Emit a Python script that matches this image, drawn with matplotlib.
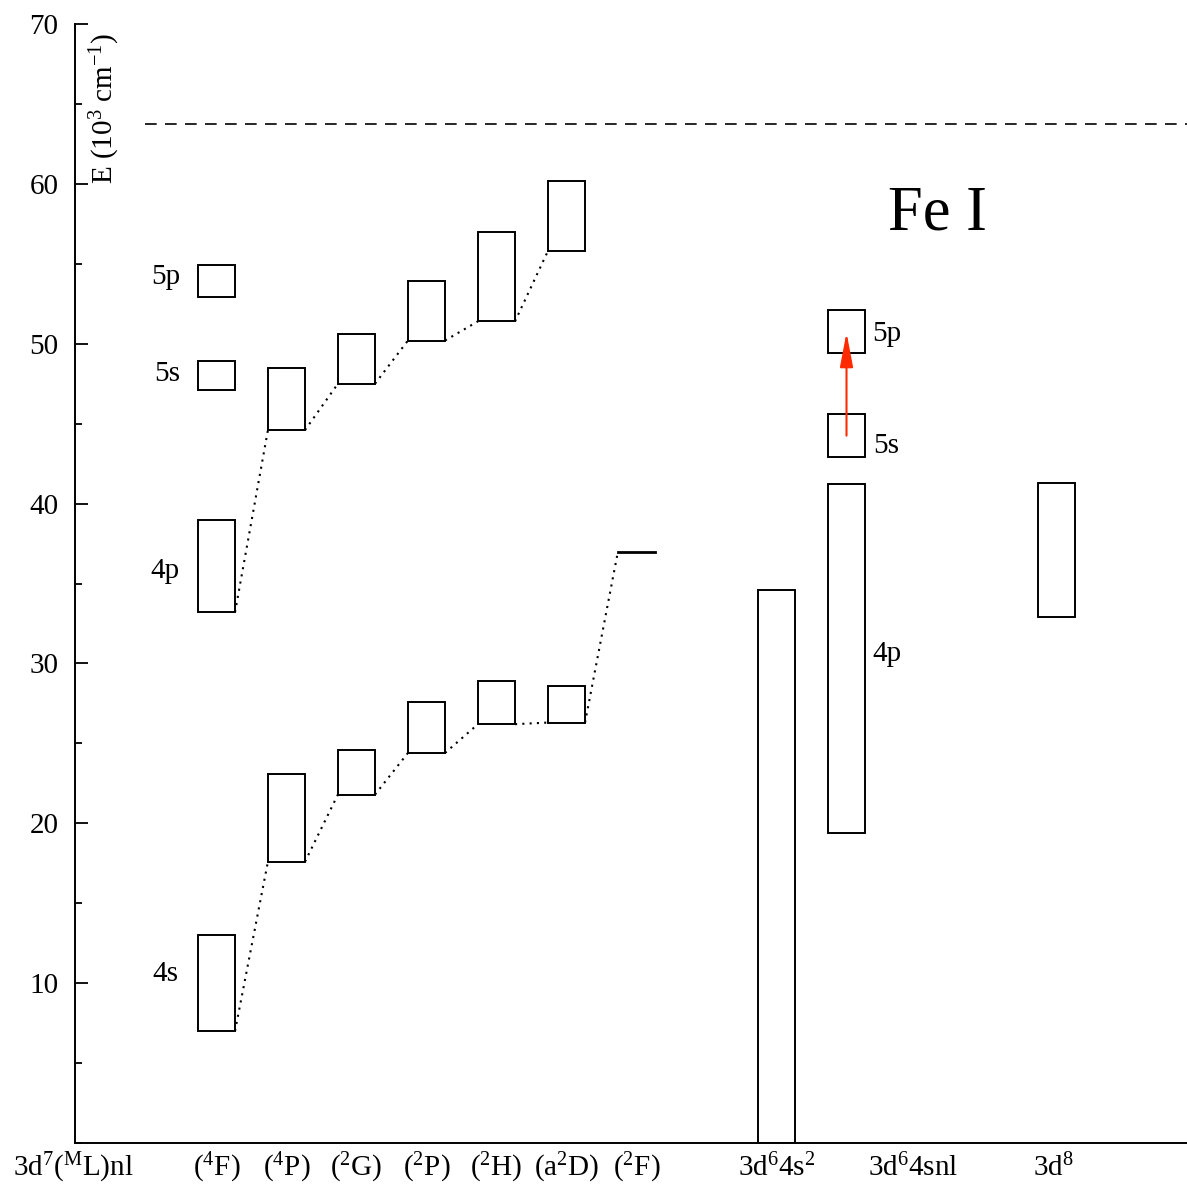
import matplotlib
matplotlib.use("Agg")
import matplotlib.pyplot as plt
from matplotlib.ticker import MultipleLocator
import numpy as np

plt.rcParams["font.family"] = ["Liberation Serif", "DejaVu Serif"]
plt.rcParams["mathtext.fontset"] = "custom"
plt.rcParams["mathtext.rm"] = "Liberation Serif"
plt.rcParams["mathtext.it"] = "Liberation Serif:italic"

# 3d7(ML)nl parent terms
parent_terms = [r"($^{4}$F)", r"($^{4}$P)", r"($^{2}$G)", r"($^{2}$P)",
                r"($^{2}$H)", r"(a$^{2}$D)", r"($^{2}$F)"]
# 3d7 4s ranges (10^3 cm^-1)
s4_lo = [7.0, 17.6, 21.8, 24.4, 26.2, 26.3]
s4_hi = [13.0, 23.1, 24.6, 27.6, 28.9, 28.6]
f2_level = 37.0
# 3d7 4p ranges
p4_lo = [33.2, 44.6, 47.5, 50.2, 51.4, 55.8]
p4_hi = [39.0, 48.5, 50.6, 53.9, 57.0, 60.2]
# 3d7(4F) 5s and 5p
f4_5s = (47.1, 48.9)
f4_5p = (52.9, 54.9)
# 3d6 4s2
d6s2 = (0.0, 34.6)
# 3d6 4s nl
d6s_4p = (19.4, 41.2)
d6s_5s = (42.9, 45.6)
d6s_5p = (49.4, 52.1)
# 3d8
d8 = (32.9, 41.3)
ionization = 63.74
transition = (44.25, 50.7)

config_labels = [r"3d$^{7}$($^{\mathrm{M}}$L)nl", r"3d$^{6}$4s$^{2}$",
                 r"3d$^{6}$4snl", r"3d$^{8}$"]

W, H = 1187, 1185
fig = plt.figure(figsize=(W / 100, H / 100), dpi=100)
ax = fig.add_axes([75 / W, 42 / H, 1112 / W, 1119 / H])

bw = 0.53
box = dict(fill=False, edgecolor="black", linewidth=1.4, width=bw)
cols = np.arange(6)

def boxes(x, lo, hi):
    lo = np.atleast_1d(lo)
    hi = np.atleast_1d(hi)
    ax.bar(x, hi - lo, bottom=lo, **box)

boxes(cols, np.array(s4_lo), np.array(s4_hi))
boxes(cols, np.array(p4_lo), np.array(p4_hi))
boxes(0, f4_5s[0], f4_5s[1])
boxes(0, f4_5p[0], f4_5p[1])
boxes(8, d6s2[0], d6s2[1])
boxes(9, d6s_4p[0], d6s_4p[1])
boxes(9, d6s_5s[0], d6s_5s[1])
boxes(9, d6s_5p[0], d6s_5p[1])
boxes(12, d8[0], d8[1])
ax.plot([6 - bw / 2, 6 + bw / 2], [f2_level, f2_level], color="black", lw=2)

# dotted connectors between lowest levels of successive parent terms
dot = dict(color="black", lw=1.5, linestyle=(0, (1, 2.5)))
lows4 = s4_lo + [f2_level]
for i in range(len(lows4) - 1):
    ax.plot([i + bw / 2, i + 1 - bw / 2], [lows4[i], lows4[i + 1]], **dot)
for i in range(len(p4_lo) - 1):
    ax.plot([i + bw / 2, i + 1 - bw / 2], [p4_lo[i], p4_lo[i + 1]], **dot)

# ionization limit
ax.plot([-1.02, 14], [ionization, ionization], color="black", lw=1.2,
        linestyle=(0, (7, 5)))

# 5s -> 5p excitation
ax.annotate("", xy=(9, transition[1]), xytext=(9, transition[0]),
            arrowprops=dict(arrowstyle="-|>,head_length=1.05,head_width=0.2",
                            color="#ff2a00", lw=1.5, shrinkA=0, shrinkB=0,
                            mutation_scale=20))

fs = 21
ax.text(-0.73, 10.6, "4s", fontsize=fs, ha="center", va="center")
ax.text(-0.73, 35.8, "4p", fontsize=fs, ha="center", va="center")
ax.text(-0.70, 48.1, "5s", fontsize=fs, ha="center", va="center")
ax.text(-0.72, 54.2, "5p", fontsize=fs, ha="center", va="center")
ax.text(9.58, 50.6, "5p", fontsize=fs, ha="center", va="center")
ax.text(9.56, 43.6, "5s", fontsize=fs, ha="center", va="center")
ax.text(9.58, 30.6, "4p", fontsize=fs, ha="center", va="center")
ax.text(10.3, 58.1, "Fe I", fontsize=45, ha="center", va="center")

ax.text(0.027, 0.992, r"E (10$^{3}$ cm$^{-1}$)", transform=ax.transAxes,
        rotation=90, fontsize=21, ha="center", va="top")

# category labels along the bottom
ylab = -1.55
for i, t in enumerate(parent_terms):
    ax.text(i, ylab, t, fontsize=fs, ha="center", va="center", clip_on=False)
for x, t in zip([-2.05, 8.0, 9.95, 11.95], config_labels):
    ax.text(x, ylab, t, fontsize=fs, ha="center", va="center", clip_on=False)

ax.set_xlim(-2.021, 13.864)
ax.set_ylim(0, 70)
ax.set_xticks([])
ax.yaxis.set_major_locator(MultipleLocator(10))
ax.yaxis.set_minor_locator(MultipleLocator(5))
ax.set_yticks(np.arange(10, 71, 10))
ax.tick_params(axis="y", which="major", direction="in", length=9, width=1.3,
               labelsize=21, pad=12)
ax.tick_params(axis="y", which="minor", direction="in", length=5, width=1.3)
for s in ["top", "right"]:
    ax.spines[s].set_visible(False)
for s in ["left", "bottom"]:
    ax.spines[s].set_linewidth(1.4)

fig.savefig("out.png", dpi=100)
